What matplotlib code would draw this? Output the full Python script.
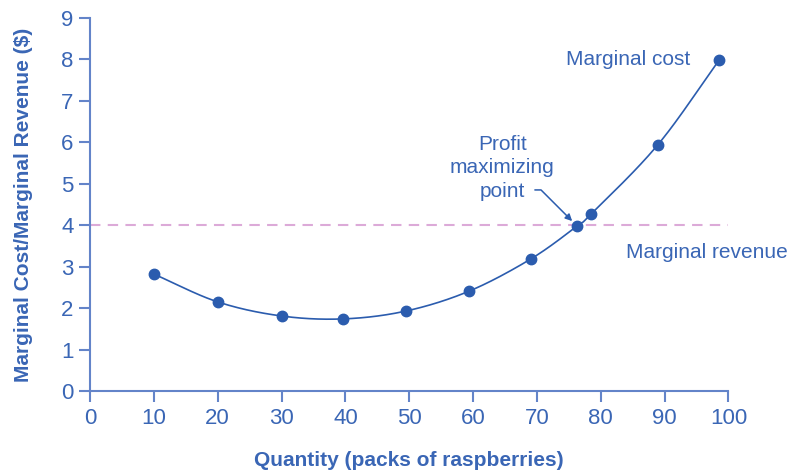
import matplotlib.pyplot as plt
import numpy as np

plt.rcParams["font.family"] = ["Liberation Sans", "DejaVu Sans"]

# marginal cost points
QUANTITY = [10, 20, 30, 39.7, 49.5, 59.4, 69.1, 76.3, 78.5, 88.9, 98.6]
MARGINAL_COST = [2.82, 2.15, 1.81, 1.74, 1.93, 2.41, 3.19, 3.98, 4.27, 5.93, 7.99]
MARGINAL_REVENUE = 4.0
PROFIT_MAX = (76.3, 3.98)
X_TICKS = list(range(0, 101, 10))
Y_TICKS = list(range(0, 10))

TEXT_BLUE = "#3a66b5"
AXIS_BLUE = "#6384c9"
DOT_BLUE = "#2b5cae"
PINK = "#dcaad8"


def catmull_rom(x, y, n=30):
    x = np.asarray(x, float)
    y = np.asarray(y, float)
    px = np.concatenate([[2 * x[0] - x[1]], x, [2 * x[-1] - x[-2]]])
    py = np.concatenate([[2 * y[0] - y[1]], y, [2 * y[-1] - y[-2]]])
    xs, ys = [], []
    t = np.linspace(0, 1, n)
    for i in range(1, len(px) - 2):
        for p, out in ((px, xs), (py, ys)):
            p0, p1, p2, p3 = p[i - 1], p[i], p[i + 1], p[i + 2]
            out.append(0.5 * (2 * p1 + (-p0 + p2) * t
                              + (2 * p0 - 5 * p1 + 4 * p2 - p3) * t ** 2
                              + (-p0 + 3 * p1 - 3 * p2 + p3) * t ** 3))
    return np.concatenate(xs), np.concatenate(ys)


fig = plt.figure(figsize=(7.9, 4.7), dpi=100)
ax = fig.add_axes([0.114, 0.168, 0.808, 0.794])

cx, cy = catmull_rom(QUANTITY, MARGINAL_COST)
ax.plot(cx, cy, color=DOT_BLUE, linewidth=1.2, zorder=3)
ax.plot(QUANTITY, MARGINAL_COST, "o", color=DOT_BLUE, markersize=7.5, zorder=4)
ax.plot([0, 100], [MARGINAL_REVENUE, MARGINAL_REVENUE], color=PINK,
        linestyle=(0, (5, 3.5)), linewidth=1.5, zorder=2)

ax.set_xlim(0, 100)
ax.set_ylim(0, 9)
ax.set_xticks(X_TICKS)
ax.set_yticks(Y_TICKS)
for side in ("top", "right"):
    ax.spines[side].set_visible(False)
for side in ("left", "bottom"):
    ax.spines[side].set_color(AXIS_BLUE)
    ax.spines[side].set_linewidth(1.5)
ax.tick_params(colors=AXIS_BLUE, labelcolor=TEXT_BLUE, labelsize=16,
               length=8, width=1.5, pad=4)
ax.set_xlabel("Quantity (packs of raspberries)", fontsize=15, fontweight="bold",
              color=TEXT_BLUE, labelpad=16)
ax.set_ylabel("Marginal Cost/Marginal Revenue ($)", fontsize=15, fontweight="bold",
              color=TEXT_BLUE, labelpad=20)

ax.text(94.0, 8.0, "Marginal cost", fontsize=15, color=TEXT_BLUE, ha="right", va="center")
ax.text(84.0, 3.35, "Marginal revenue", fontsize=15, color=TEXT_BLUE, ha="left", va="center")
ax.annotate("Profit\nmaximizing\npoint", xy=PROFIT_MAX, xytext=(64.6, 5.38),
            fontsize=15, color=TEXT_BLUE, ha="center", va="center", linespacing=1.32,
            arrowprops=dict(arrowstyle="-|>", color=DOT_BLUE, lw=1.1, patchA=None,
                            shrinkA=3, shrinkB=5, mutation_scale=10,
                            connectionstyle="angle,angleA=0,angleB=135,rad=0",
                            relpos=(0.77, 0.17)))

fig.savefig("out.png", dpi=100)
